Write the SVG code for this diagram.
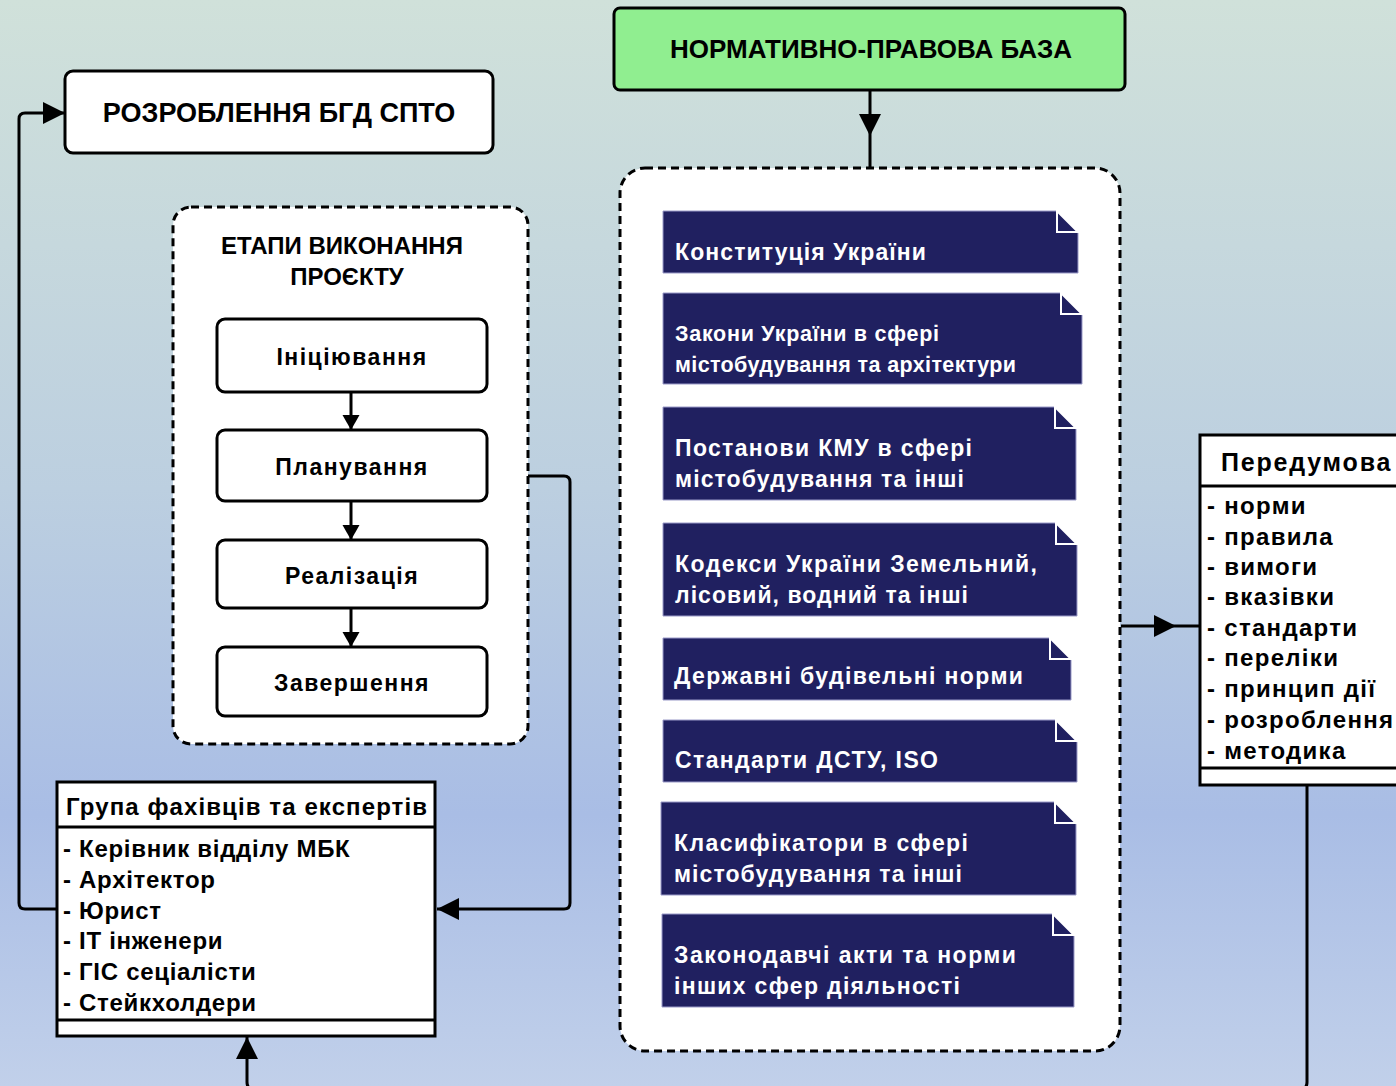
<svg xmlns="http://www.w3.org/2000/svg" width="1396" height="1086" viewBox="0 0 1396 1086">
<defs>
<linearGradient id="bg" x1="0" y1="0" x2="0" y2="1">
<stop offset="0" stop-color="#d0e1da"/>
<stop offset="0.45" stop-color="#bccfe0"/>
<stop offset="0.75" stop-color="#a9bde5"/>
<stop offset="1" stop-color="#c1d0ea"/>
</linearGradient>
<marker id="arr" markerUnits="userSpaceOnUse" markerWidth="24" markerHeight="24" refX="22" refY="11" orient="auto"><path d="M0,0 L22,11 L0,22 Z" fill="#000"/></marker>
<marker id="arrs" markerUnits="userSpaceOnUse" markerWidth="18" markerHeight="18" refX="15" refY="8.5" orient="auto"><path d="M0,0 L15,8.5 L0,17 Z" fill="#000"/></marker>
</defs>
<style>
.box{fill:#fff;stroke:#000;stroke-width:3}
.dash{fill:#fff;stroke:#000;stroke-width:3;stroke-dasharray:8 5}
.t{font-family:"Liberation Sans",Arial,sans-serif;font-weight:bold;fill:#000}
.doc{fill:#202060;stroke:#9a9ac8;stroke-width:1}
.fold{fill:#202060;stroke:#fff;stroke-width:2}
.dt{font-family:"Liberation Sans",Arial,sans-serif;font-weight:bold;fill:#fff;font-size:23px;letter-spacing:1px}
.dt2{font-size:21.5px}
.li{font-size:24px;letter-spacing:0.7px}
.pl{font-size:24px;letter-spacing:1.3px}
.st{font-size:23px;letter-spacing:1.5px}
.con{fill:none;stroke:#000;stroke-width:3}
</style>
<rect width="1396" height="1086" fill="url(#bg)"/>

<g id="rozroblennia">
<rect class="box" x="65" y="71" width="428" height="82" rx="8"/>
<text class="t" x="279" y="122" font-size="27" text-anchor="middle">РОЗРОБЛЕННЯ БГД СПТО</text>
</g>

<g id="etapy">
<rect class="dash" x="173" y="207" width="355" height="537" rx="18"/>
<text class="t" x="342" y="254" font-size="24" text-anchor="middle">ЕТАПИ ВИКОНАННЯ</text>
<text class="t" x="347" y="285" font-size="24" text-anchor="middle">ПРОЄКТУ</text>
</g>
<g id="initsiiuvannia">
<rect class="box" x="217" y="319" width="270" height="73" rx="8"/>
<text class="t st" x="352" y="365" text-anchor="middle">Ініціювання</text>
</g>
<g id="planuvannia">
<rect class="box" x="217" y="430" width="270" height="71" rx="8"/>
<text class="t st" x="352" y="475" text-anchor="middle">Планування</text>
</g>
<g id="realizatsiia">
<rect class="box" x="217" y="540" width="270" height="68" rx="8"/>
<text class="t st" x="352" y="584" text-anchor="middle">Реалізація</text>
</g>
<g id="zavershennia">
<rect class="box" x="217" y="647" width="270" height="69" rx="8"/>
<text class="t st" x="352" y="691" text-anchor="middle">Завершення</text>
</g>

<g id="hrupa">
<rect class="box" x="57" y="782" width="378" height="254"/>
<line x1="57" y1="827" x2="435" y2="827" stroke="#000" stroke-width="3"/>
<line x1="57" y1="1020" x2="435" y2="1020" stroke="#000" stroke-width="3"/>
<text class="t" x="66" y="815" font-size="24" letter-spacing="1.1">Група фахівців та експертів</text>
<text class="t li" x="63" y="857">- Керівник відділу МБК</text>
<text class="t li" x="63" y="888">- Архітектор</text>
<text class="t li" x="63" y="919">- Юрист</text>
<text class="t li" x="63" y="949">- ІТ інженери</text>
<text class="t li" x="63" y="980">- ГІС сеціалісти</text>
<text class="t li" x="63" y="1011">- Стейкхолдери</text>
</g>

<g id="npb">
<rect x="614" y="8" width="511" height="82" rx="6" fill="#90ee90" stroke="#000" stroke-width="3"/>
<text class="t" x="871" y="58" font-size="26" text-anchor="middle">НОРМАТИВНО-ПРАВОВА БАЗА</text>
</g>

<g id="dzherela">
<rect class="dash" x="620" y="168" width="500" height="883" rx="25"/>
</g>

<g id="doc1">
<path class="doc" d="M663,211 H1057 L1078,232 V273 H663 Z"/>
<path class="fold" d="M1057,211 V232 H1078 Z"/>
<text class="dt" x="675" y="260" textLength="252">Конституція України</text>
</g>
<g id="doc2">
<path class="doc" d="M663,293 H1061 L1082,314 V384 H663 Z"/>
<path class="fold" d="M1061,293 V314 H1082 Z"/>
<text class="dt dt2" x="675" y="341" textLength="265">Закони України в сфері</text>
<text class="dt dt2" x="675" y="372" textLength="342">містобудування та архітектури</text>
</g>
<g id="doc3">
<path class="doc" d="M663,407 H1055 L1076,428 V500 H663 Z"/>
<path class="fold" d="M1055,407 V428 H1076 Z"/>
<text class="dt" x="675" y="456" textLength="298">Постанови КМУ в сфері</text>
<text class="dt" x="675" y="487" textLength="290">містобудування та інші</text>
</g>
<g id="doc4">
<path class="doc" d="M663,523 H1056 L1077,544 V616 H663 Z"/>
<path class="fold" d="M1056,523 V544 H1077 Z"/>
<text class="dt" x="675" y="572" textLength="363">Кодекси України Земельний,</text>
<text class="dt" x="675" y="603" textLength="294">лісовий, водний та інші</text>
</g>
<g id="doc5">
<path class="doc" d="M663,638 H1050 L1071,659 V700 H663 Z"/>
<path class="fold" d="M1050,638 V659 H1071 Z"/>
<text class="dt" x="674" y="684" textLength="350">Державні будівельні норми</text>
</g>
<g id="doc6">
<path class="doc" d="M663,720 H1056 L1077,741 V782 H663 Z"/>
<path class="fold" d="M1056,720 V741 H1077 Z"/>
<text class="dt" x="675" y="768" textLength="264">Стандарти ДСТУ, ISO</text>
</g>
<g id="doc7">
<path class="doc" d="M661,802 H1055 L1076,823 V895 H661 Z"/>
<path class="fold" d="M1055,802 V823 H1076 Z"/>
<text class="dt" x="674" y="851" textLength="295">Класифікатори в сфері</text>
<text class="dt" x="674" y="882" textLength="289">містобудування та інші</text>
</g>
<g id="doc8">
<path class="doc" d="M662,914 H1053 L1074,935 V1007 H662 Z"/>
<path class="fold" d="M1053,914 V935 H1074 Z"/>
<text class="dt" x="674" y="963" textLength="343">Законодавчі акти та норми</text>
<text class="dt" x="674" y="994" textLength="287">інших сфер діяльності</text>
</g>

<g id="peredumova">
<rect class="box" x="1200" y="435" width="210" height="350"/>
<line x1="1200" y1="486" x2="1410" y2="486" stroke="#000" stroke-width="3"/>
<line x1="1200" y1="768" x2="1410" y2="768" stroke="#000" stroke-width="3"/>
<text class="t" x="1221" y="471" font-size="25" letter-spacing="1.8">Передумова</text>
<text class="t pl" x="1207" y="514">- норми</text>
<text class="t pl" x="1207" y="545">- правила</text>
<text class="t pl" x="1207" y="575">- вимоги</text>
<text class="t pl" x="1207" y="605">- вказівки</text>
<text class="t pl" x="1207" y="636">- стандарти</text>
<text class="t pl" x="1207" y="666">- переліки</text>
<text class="t pl" x="1207" y="697">- принцип дії</text>
<text class="t pl" x="1207" y="728">- розроблення</text>
<text class="t pl" x="1207" y="759">- методика</text>
</g>

<g id="connectors">
<path class="con" d="M57,909 H25 Q19,909 19,903 V119 Q19,113 25,113 H65" marker-end="url(#arr)"/>
<path class="con" d="M528,476 H564 Q570,476 570,482 V903 Q570,909 564,909 H437" marker-end="url(#arr)"/>
<path class="con" d="M1307,786 V1082 Q1307,1090 1299,1090 H255 Q247,1090 247,1082 V1037" marker-end="url(#arr)"/>
<path class="con" d="M870,91 V136 V167" marker-mid="url(#arr)"/>
<path class="con" d="M1121,626 H1176 H1199" marker-mid="url(#arr)"/>
<path class="con" d="M351,393 V430" marker-end="url(#arrs)"/>
<path class="con" d="M351,502 V540" marker-end="url(#arrs)"/>
<path class="con" d="M351,609 V647" marker-end="url(#arrs)"/>
</g>
</svg>
